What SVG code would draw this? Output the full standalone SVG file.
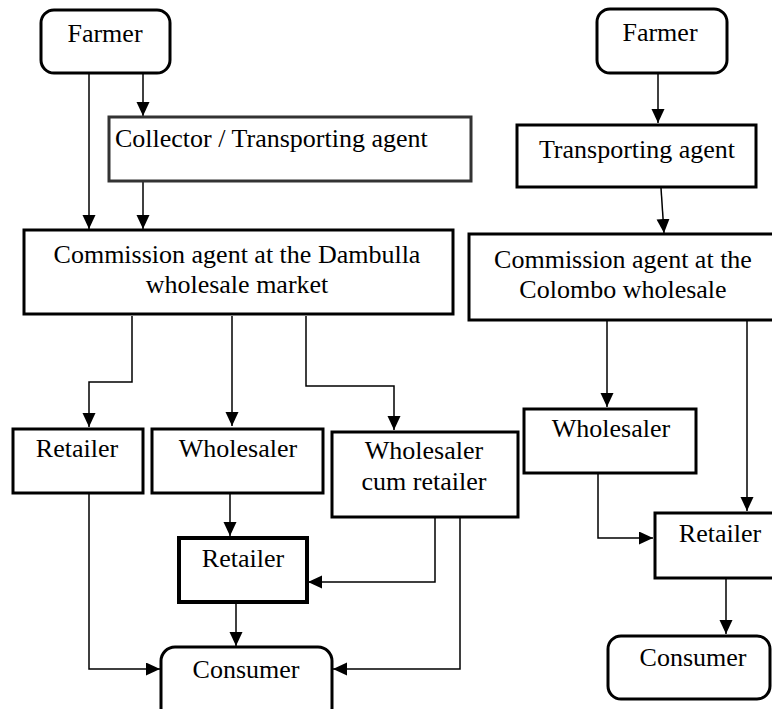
<svg xmlns="http://www.w3.org/2000/svg" width="772" height="709" viewBox="0 0 772 709">
  <style>
    .box { fill: #fff; stroke: #000; stroke-width: 3; }
    .gray { stroke: #333; }
    .thick { stroke-width: 4; }
    .lbl { font-size: 26px; fill: #000; text-anchor: middle; }
    .conn { fill: none; stroke: #000; stroke-width: 1.5; marker-end: url(#arr); }
  </style>
  <defs>
    <marker id="arr" markerUnits="userSpaceOnUse" markerWidth="16" markerHeight="14" refX="14" refY="6.5" orient="auto">
      <path d="M0,0 L14,6.5 L0,13 Z" fill="#000"/>
    </marker>
  </defs>
  <rect width="772" height="709" fill="#fff"/>

  <g id="connectors">
    <!-- Dambulla chain -->
    <path class="conn" d="M89,73 V229"/>
    <path class="conn" d="M143,73 V116"/>
    <path class="conn" d="M143,182 V229"/>
    <path class="conn" d="M132,316 V382 H89 V427"/>
    <path class="conn" d="M232,316 V426"/>
    <path class="conn" d="M306,316 V386 H394 V430"/>
    <path class="conn" d="M230,494 V536"/>
    <path class="conn" d="M435,518 V582 H308"/>
    <path class="conn" d="M236,603 V646"/>
    <path class="conn" d="M89,494 V669 H160"/>
    <path class="conn" d="M460,518 V669 H333"/>
    <!-- Colombo chain -->
    <path class="conn" d="M658,73 V123"/>
    <path class="conn" d="M661,188 L664,233"/>
    <path class="conn" d="M607,321 V407"/>
    <path class="conn" d="M747,321 V511"/>
    <path class="conn" d="M598,474 V538 H653"/>
    <path class="conn" d="M726,579 V634"/>
  </g>

  <g font-family="'Liberation Serif', Tinos, 'Times New Roman', 'DejaVu Serif', serif">
  <g id="farmer-left">
    <rect class="box" x="41" y="10" width="129" height="63" rx="13"/>
    <text class="lbl" x="105" y="42">Farmer</text>
  </g>
  <g id="collector">
    <rect class="box gray" x="109" y="117" width="362" height="64"/>
    <text class="lbl" x="115" y="147" text-anchor="start" style="text-anchor:start">Collector / Transporting agent</text>
  </g>
  <g id="commission-dambulla">
    <rect class="box" x="24" y="230" width="429" height="84"/>
    <text class="lbl" x="237" y="263">Commission agent at the Dambulla</text>
    <text class="lbl" x="237" y="293">wholesale market</text>
  </g>
  <g id="retailer-1">
    <rect class="box" x="13" y="429" width="130" height="64"/>
    <text class="lbl" x="77" y="457">Retailer</text>
  </g>
  <g id="wholesaler-1">
    <rect class="box" x="152" y="429" width="171" height="64"/>
    <text class="lbl" x="238" y="457">Wholesaler</text>
  </g>
  <g id="wholesaler-cum-retailer">
    <rect class="box" x="332" y="432" width="186" height="85"/>
    <text class="lbl" x="424" y="459">Wholesaler</text>
    <text class="lbl" x="424" y="490">cum retailer</text>
  </g>
  <g id="retailer-2">
    <rect class="box thick" x="179" y="538" width="128" height="64"/>
    <text class="lbl" x="243" y="567">Retailer</text>
  </g>
  <g id="consumer-left">
    <rect class="box" x="161" y="647" width="171" height="75" rx="14"/>
    <text class="lbl" x="246" y="678">Consumer</text>
  </g>

  <g id="farmer-right">
    <rect class="box" x="597" y="9" width="130" height="64" rx="13"/>
    <text class="lbl" x="660" y="41">Farmer</text>
  </g>
  <g id="transporting-agent">
    <rect class="box" x="517" y="125" width="239" height="62"/>
    <text class="lbl" x="637" y="158">Transporting agent</text>
  </g>
  <g id="commission-colombo">
    <rect class="box" x="469" y="234" width="320" height="86"/>
    <text class="lbl" x="623" y="268">Commission agent at the</text>
    <text class="lbl" x="623" y="298">Colombo wholesale</text>
  </g>
  <g id="wholesaler-2">
    <rect class="box" x="524" y="409" width="172" height="64"/>
    <text class="lbl" x="611" y="437">Wholesaler</text>
  </g>
  <g id="retailer-3">
    <rect class="box" x="655" y="513" width="130" height="65"/>
    <text class="lbl" x="720" y="542">Retailer</text>
  </g>
  <g id="consumer-right">
    <rect class="box" x="608" y="636" width="162" height="63" rx="13"/>
    <text class="lbl" x="693" y="666">Consumer</text>
  </g>
  </g>
</svg>
